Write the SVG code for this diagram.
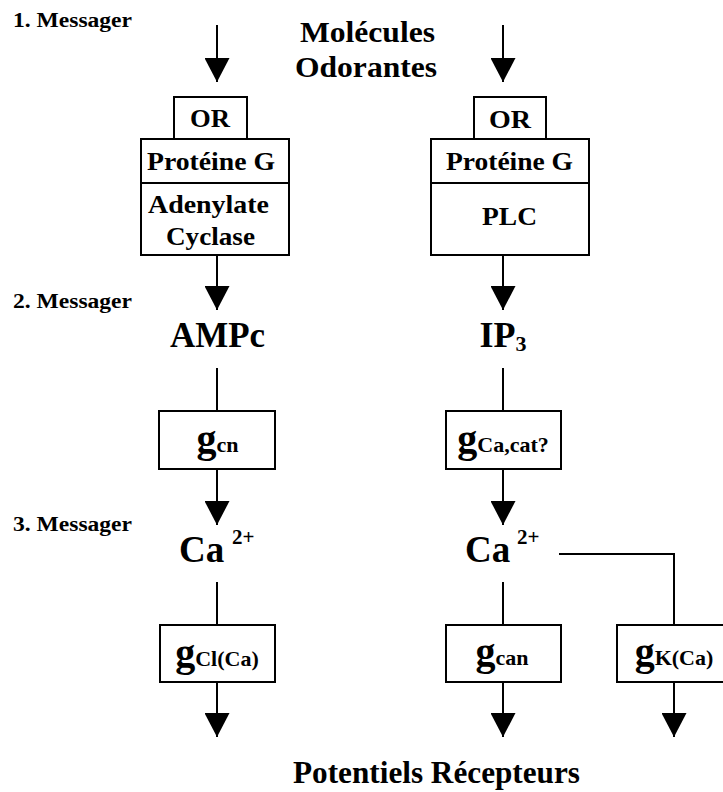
<svg xmlns="http://www.w3.org/2000/svg" width="723" height="792" viewBox="0 0 723 792">
<style>
text{font-family:"Liberation Serif","Times New Roman",serif;font-weight:bold;fill:#000}
.lbl{font-size:20px}
.box{font-size:25px;text-anchor:middle}
.big{font-size:36px;text-anchor:middle}
.title{font-size:30px;text-anchor:middle}
.g{font-size:40px;text-anchor:middle}
.sub{font-size:22px}
rect{fill:#fff;stroke:#000;stroke-width:2}
.c line,.c polyline{stroke:#000;stroke-width:2;fill:none}
</style>
<defs>
<marker id="ah" viewBox="0 0 24 25" refX="24" refY="12.5" markerWidth="24" markerHeight="25" markerUnits="userSpaceOnUse" orient="auto">
<path d="M0,0 L24,12.5 L0,25 z" fill="#000"/>
</marker>
</defs>
<rect width="723" height="792" style="fill:#fff;stroke:none"/>

<g id="labels">
<text class="lbl" x="13" y="27" textLength="119" lengthAdjust="spacingAndGlyphs">1. Messager</text>
<text class="lbl" x="13" y="308" textLength="119" lengthAdjust="spacingAndGlyphs">2. Messager</text>
<text class="lbl" x="13" y="531" textLength="119" lengthAdjust="spacingAndGlyphs">3. Messager</text>
</g>

<g id="title">
<text class="title" x="367.5" y="42" textLength="135" lengthAdjust="spacingAndGlyphs">Molécules</text>
<text class="title" x="366" y="77" textLength="142" lengthAdjust="spacingAndGlyphs">Odorantes</text>
</g>

<g id="connectors" class="c">
<line x1="217" y1="25" x2="217" y2="82" marker-end="url(#ah)"/>
<line x1="503" y1="25" x2="503" y2="82" marker-end="url(#ah)"/>
<line x1="217" y1="255" x2="217" y2="310" marker-end="url(#ah)"/>
<line x1="503" y1="255" x2="503" y2="310" marker-end="url(#ah)"/>
<line x1="217" y1="368" x2="217" y2="411"/>
<line x1="503" y1="368" x2="503" y2="411"/>
<line x1="217" y1="469" x2="217" y2="525" marker-end="url(#ah)"/>
<line x1="503" y1="469" x2="503" y2="525" marker-end="url(#ah)"/>
<line x1="217" y1="582" x2="217" y2="625"/>
<line x1="503" y1="582" x2="503" y2="625"/>
<polyline points="559,554 674,554 674,625"/>
<line x1="217" y1="682" x2="217" y2="737" marker-end="url(#ah)"/>
<line x1="503" y1="682" x2="503" y2="737" marker-end="url(#ah)"/>
<line x1="674" y1="682" x2="674" y2="737" marker-end="url(#ah)"/>
</g>

<g id="left-receptor">
<rect x="174" y="97" width="73" height="42"/>
<text class="box" x="210" y="127" textLength="40" lengthAdjust="spacingAndGlyphs">OR</text>
<rect x="141" y="139" width="148" height="44"/>
<text class="box" x="211" y="170" textLength="128" lengthAdjust="spacingAndGlyphs">Protéine G</text>
<rect x="141" y="183" width="148" height="72"/>
<text class="box" x="208.5" y="213" textLength="121" lengthAdjust="spacingAndGlyphs">Adenylate</text>
<text class="box" x="210.5" y="245" textLength="89" lengthAdjust="spacingAndGlyphs">Cyclase</text>
</g>

<g id="right-receptor">
<rect x="474" y="97" width="72" height="42"/>
<text class="box" x="510" y="128" textLength="42" lengthAdjust="spacingAndGlyphs">OR</text>
<rect x="431" y="139" width="158" height="44"/>
<text class="box" x="509.5" y="170" textLength="127" lengthAdjust="spacingAndGlyphs">Protéine G</text>
<rect x="431" y="183" width="158" height="72"/>
<text class="box" x="509.5" y="225" textLength="55" lengthAdjust="spacingAndGlyphs">PLC</text>
</g>

<g id="ampc">
<text class="big" x="217.5" y="347" textLength="95" lengthAdjust="spacingAndGlyphs">AMPc</text>
</g>
<g id="ip3">
<text class="big" x="503" y="347">IP<tspan class="sub" dy="4">3</tspan></text>
</g>

<g id="gcn">
<rect x="159" y="411" width="116" height="58"/>
<text class="g" x="217.5" y="452">g<tspan class="sub">cn</tspan></text>
</g>
<g id="gcacat">
<rect x="446" y="411" width="115" height="58"/>
<text class="g" x="503" y="452">g<tspan class="sub">Ca,cat?</tspan></text>
</g>

<g id="ca-left">
<text style="font-size:37px" x="179" y="562">Ca<tspan style="font-size:21px" x="232" y="544">2+</tspan></text>
</g>
<g id="ca-right">
<text style="font-size:37px" x="465" y="562">Ca<tspan style="font-size:21px" x="517" y="544">2+</tspan></text>
</g>

<g id="gclca">
<rect x="160" y="625" width="115" height="57"/>
<text class="g" x="217" y="666">g<tspan class="sub">Cl(Ca)</tspan></text>
</g>
<g id="gcan">
<rect x="446" y="625" width="115" height="57"/>
<text class="g" x="502" y="665">g<tspan class="sub">can</tspan></text>
</g>
<g id="gkca">
<rect x="617" y="625" width="113" height="57"/>
<text class="g" x="674" y="665">g<tspan class="sub">K(Ca)</tspan></text>
</g>

<g id="potentiels">
<text style="font-size:31px;text-anchor:middle" x="436.5" y="783" textLength="287" lengthAdjust="spacingAndGlyphs">Potentiels Récepteurs</text>
</g>
</svg>
